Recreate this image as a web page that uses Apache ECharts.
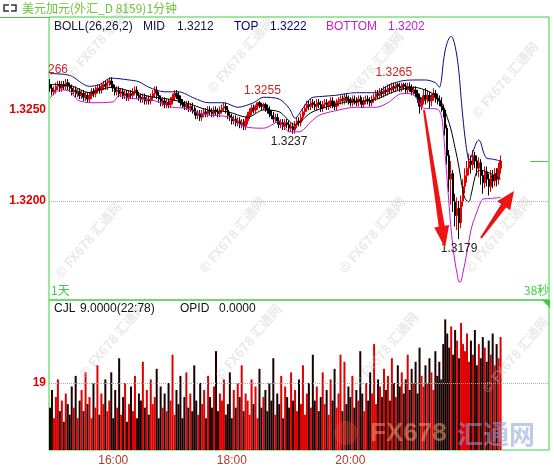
<!DOCTYPE html>
<html><head><meta charset="utf-8">
<script src="https://cdn.jsdelivr.net/npm/echarts@6/dist/echarts.min.js"></script>
<style>html,body{margin:0;padding:0;background:#fff;}#c{width:554px;height:470px;}</style>
</head><body><div id="c"></div>
<script>
// ---- data (prices in pips above 1.3200) ----
const basePrice = 1.32;
const startMinute = 14 * 60 + 56;   // first 2-minute slot 14:56
const slotMinutes = 2;
const slotCount = 253;
const tickLabels = ['16:00', '18:00', '20:00'];
const priceTicks = [1.3200, 1.3250];
const volumeTicks = [19];

const openPips = [64,62,60,61,63,64,62,64,63,65, 63,62,60,61,59,60,58,59,57,58, 56,58,60,59,61,62,61,63,64,63, 65,66,64,62,60,61,59,60,58,59, 57,59,58,60,61,58,57,56,57,55, 56,55,57,59,61,58,56,54,55,53, 54,53,55,57,59,58,56,54,53,52, 53,51,52,50,49,47,48,46,48,49, 48,50,49,48,50,49,48,50,51,52, 50,47,46,44,45,43,44,42,43,41, 44,47,49,51,50,52,54,53,52,53, 51,50,48,47,45,46,44,42,43,41, 43,42,40,41,39,42,44,43,46,49, 51,53,52,54,53,52,54,53,51,53, 54,52,53,55,53,52,54,55,56,55, 57,56,55,54,56,55,54,56,55,53, 55,56,55,54,56,57,59,58,60,59, 61,60,62,61,63,62,64,63,62,64, 63,61,63,62,60,61,59,57,52,55, 58,56,58,55,57,59,57,56,55,52, 50,40,25,12,15,0,-8,-4,-12,0, 8,14,18,22,20,25,22,18,21,14, 10,16,12,8,14,11,15,12,18];
const closePips = [62,60,61,63,64,62,64,63,65,63, 62,60,61,59,60,58,59,57,58,56, 58,60,59,61,62,61,63,64,63,65, 66,64,62,60,61,59,60,58,59,57, 59,58,60,61,58,57,56,57,55,56, 55,57,59,61,58,56,54,55,53,54, 53,55,57,59,58,56,54,53,52,53, 51,52,50,49,47,48,46,48,49,48, 50,49,48,50,49,48,50,51,52,50, 47,46,44,45,43,44,42,43,41,44, 47,49,51,50,52,54,53,52,53,51, 50,48,47,45,46,44,42,43,41,43, 42,40,41,39,42,44,43,46,49,51, 53,52,54,53,52,54,53,51,53,54, 52,53,55,53,52,54,55,56,55,57, 56,55,54,56,55,54,56,55,53,55, 56,55,54,56,57,59,58,60,59,61, 60,62,61,63,62,64,63,62,64,63, 61,63,62,60,61,59,57,52,55,58, 56,58,55,57,59,57,56,55,52,50, 40,25,12,15,0,-8,-4,-12,0,8, 14,18,22,20,25,22,18,21,14,10, 16,12,8,14,11,15,12,18,22];
const highPips = [67,64,63,65,66,66,66,66,67,67, 65,64,63,63,62,62,61,61,60,60, 60,62,62,63,64,64,65,66,66,67, 68,68,66,64,63,63,62,62,61,61, 61,61,62,63,63,60,59,59,59,58, 58,59,61,63,63,60,58,57,57,56, 56,57,59,61,61,60,58,56,55,55, 55,54,54,52,51,50,50,50,51,51, 52,52,51,52,52,51,52,53,54,54, 52,49,48,47,47,46,46,45,45,46, 49,51,53,53,53,54,55,54,54,54, 53,52,50,49,48,48,46,45,45,45, 45,44,43,43,44,46,46,48,51,53, 55,55,56,56,55,56,56,55,55,56, 56,55,57,57,55,56,57,58,58,59, 59,58,57,58,58,57,58,58,57,57, 58,58,57,58,59,61,61,62,62,63, 63,64,64,65,65,65,65,65,65,65, 65,65,65,64,63,63,61,59,57,61, 62,61,60,59,62,61,59,58,57,53, 51,42,28,22,17,4,2,0,3,12, 18,22,26,25,28,27,25,24,23,17, 19,19,15,17,17,18,18,21,25];
const lowPips = [60,58,58,59,61,60,60,61,61,61, 60,58,58,57,57,56,56,55,55,54, 54,56,57,57,59,59,59,61,61,61, 63,62,60,58,58,57,57,56,56,55, 55,56,56,58,56,55,54,54,53,53, 53,53,55,57,56,54,52,52,51,51, 51,51,53,55,56,54,52,51,50,50, 49,49,48,47,45,45,44,44,46,46, 46,47,46,46,47,46,46,48,49,48, 45,44,42,42,41,41,40,40,39,39, 42,45,47,48,48,50,51,50,50,49, 48,46,45,43,43,42,40,40,39,39, 40,38,38,37,37,40,41,41,44,47, 49,50,50,51,50,50,51,49,49,51, 50,50,51,51,50,50,52,53,53,53, 54,53,52,52,53,52,52,53,51,51, 53,53,52,52,54,55,56,56,57,57, 58,58,59,59,60,60,61,60,60,61, 59,59,60,58,58,57,54,48,50,53, 53,54,51,52,55,54,53,52,49,46, 36,20,5,-2,-6,-14,-16,-21,-15,-3, 4,10,14,15,17,18,14,13,9,4, 7,8,3,5,7,8,8,9,15];
const volumes = [12,17,9,15,20,11,14,8,16,13, 10,18,12,21,9,14,17,11,22,13, 15,9,19,12,24,10,16,13,20,11, 14,22,9,17,12,26,10,15,19,8, 13,18,11,21,9,16,14,25,12,17, 10,20,13,15,23,9,18,12,16,11, 19,14,27,10,17,13,21,9,15,22, 12,16,11,24,14,10,19,13,17,9, 21,15,12,18,28,11,16,14,20,10, 13,22,9,17,12,19,15,24,11,16, 14,10,20,13,18,9,23,12,15,17, 11,19,14,26,10,16,13,21,9,18, 15,12,22,14,17,11,20,13,24,10, 16,19,12,27,14,18,11,15,22,13, 17,10,20,14,23,12,16,27,11,25, 13,18,15,21,12,17,14,28,16,11, 19,14,22,16,30,13,20,18,15,23, 17,21,14,26,19,15,24,18,22,16, 20,27,17,23,19,25,16,29,21,18, 24,19,26,22,17,28,21,25,20,30, 37,33,29,35,27,34,31,26,36,30, 28,33,25,31,27,34,24,30,26,32, 29,25,31,27,33,24,30,26,32];
// Bollinger bands: [slot, pips]
const bollTop = [[0,70],[10,69],[20,63],[25,64],[31,67.5],[40,66.5],[45,65.5],[50,62.5],[58,60],[65,60],[73,56.5],[80,54],[88,54],[95,51.5],[103,54],[108,57],[116,56],[121,51],[124,45.5],[128,51],[132,56.5],[138,57.5],[144,58],[155,59.5],[165,59.5],[171,63.5],[178,66],[184,66.5],[190,66.5],[195,65],[197,62.5],[198,66],[199,76],[200,83],[201,87],[202,89.5],[203,90.5],[204,89],[205,85],[206,79],[207,70],[208,57],[209,45],[210,35],[211,27],[212,22.5],[213,24],[214,27],[215,30],[216,32.5],[217,33.5],[218,32],[219,28],[220,25],[221,23.5],[224,23],[228,22]];
const bollMid = [[0,64],[10,63.5],[20,59.5],[31,62.5],[40,60.5],[50,57.5],[60,56],[70,53.5],[80,50],[90,49],[100,46],[108,50],[116,49],[124,42],[132,48.5],[141,52],[151,54.5],[164,55.5],[174,60],[184,62.5],[192,60],[197,56],[199,52],[201,46],[203,39],[205,29],[206,24],[207,18],[208,11.5],[209,5],[210,1.5],[211,0],[212,-0.5],[213,3],[214,8],[215,13],[216,16],[218,17],[221,16],[225,14],[228,12]];
const bollBottom = [[0,56.5],[5,61],[10,60.5],[14,55.5],[21,54],[32,54.5],[35,58],[39,56.5],[48,56],[55,54.5],[62,51.5],[68,51],[78,47.5],[91,46],[98,41],[108,40],[116,43.5],[121,38],[126,38],[132,43.5],[136,47],[144,49.5],[155,51.5],[165,51.5],[171,54],[178,59],[183,59],[186,55.5],[189,51],[196,50.5],[198,47],[199,39],[200,25],[201,11],[202,-3],[203,-16],[204,-26],[205,-34],[206,-40],[207,-44.5],[208,-44],[209,-39],[210,-34],[211,-28],[212,-22],[213,-16],[214,-12],[215,-9],[216,-6],[217,-3],[218,-0.5],[219,1],[224,1.5],[228,2]];
// annotated extremes: slot index, which value
const extremes = [
  {i:106, kind:'high', color:'#d42020', off:[3,-10]},
  {i:175, kind:'high', color:'#d42020', off:[-2,-10]},
  {i:123, kind:'low',  color:'#222222', off:[-4,8]},
  {i:207, kind:'low',  color:'#222222', off:[0,9]}
];

// ---- build ----
const toPrice = p => +(basePrice + p / 10000).toFixed(5);
const cats = [];
for (let k = 0; k < slotCount; k++) {
  const m = startMinute + k * slotMinutes;
  cats.push(String(Math.floor(m / 60) % 24).padStart(2, '0') + ':' + String(m % 60).padStart(2, '0'));
}
const RED = '#e00000', BLACK = '#000000', GREEN = '#3fcc3f';
const FONT = 'Liberation Sans';
const candleData = closePips.map((c, i) => [toPrice(openPips[i]), toPrice(c), toPrice(lowPips[i]), toPrice(highPips[i])]);
const volData = volumes.map((v, i) => ({value: v, itemStyle: {color: closePips[i] >= openPips[i] ? RED : '#1a0000'}}));
const band = arr => arr.map(d => [d[0], toPrice(d[1])]);
const lastPrice = toPrice(closePips[closePips.length - 1]);

function arrowPts(x0, y0, x1, y1, w0, w1, hl, hw) {
  const dx = x1 - x0, dy = y1 - y0, L = Math.hypot(dx, dy), ux = dx / L, uy = dy / L, px = -uy, py = ux;
  const bx = x1 - ux * hl, by = y1 - uy * hl;
  return [[x0 + px * w0, y0 + py * w0], [bx + px * w1, by + py * w1], [bx + px * hw, by + py * hw], [x1, y1],
          [bx - px * hw, by - py * hw], [bx - px * w1, by - py * w1], [x0 - px * w0, y0 - py * w0]];
}
const txt = (x, y, text, fill, size, extra) => Object.assign({type: 'text', x, y, z: 100, silent: true,
  style: Object.assign({text, fill, font: (size || 12) + 'px "' + FONT + '"', textVerticalAlign: 'middle'}, extra || {})});

const watermarks = [[100,40],[240,55],[370,70],[505,80],[88,240],[232,235],[372,235],[498,235],[112,340],[248,342],[385,350],[515,355]];
const graphics = [
  {type: 'line', shape: {x1: 0, y1: 17.5, x2: 49, y2: 17.5}, style: {stroke: GREEN, lineWidth: 1}, z: 100},
  {type: 'polyline', shape: {points: [[9,5],[4,5],[4,11],[9,11]]}, style: {stroke: '#333', lineWidth: 1.5, fill: null}, z: 100},
  {type: 'polyline', shape: {points: [[11,5],[16,5],[16,11],[11,11]]}, style: {stroke: '#333', lineWidth: 1.5, fill: null}, z: 100},
  txt(22, 8, '美元加元(外汇_D 8159)1分钟', '#6cc43a', 12, {font: '12px "Noto Sans CJK SC"'}),
  txt(54, 27, 'BOLL(26,26,2)', '#14143c'), txt(143, 27, 'MID', '#14143c'), txt(177, 27, '1.3212', '#14143c'),
  txt(234, 27, 'TOP', '#000080'), txt(270, 27, '1.3222', '#000080'),
  txt(326, 27, 'BOTTOM', '#c81ec8'), txt(388, 27, '1.3202', '#c81ec8'),
  txt(54, 309, 'CJL', '#111'), txt(80, 309, '9.0000(22:78)', '#111'), txt(180, 309, 'OPID', '#111'), txt(219, 309, '0.0000', '#111'),
  txt(51, 290, '1天', GREEN, 12, {font: '12px "Noto Sans CJK SC"'}),
  txt(524, 290, '38秒', GREEN, 12, {font: '12px "Noto Sans CJK SC"'}),
  txt(48, 70, '266', '#d42020'),
  {type: 'polygon', shape: {points: [[542,300],[550,300],[550,308]]}, style: {fill: GREEN}, z: 100},
  {type: 'polygon', shape: {points: arrowPts(424, 110, 445, 248, 1, 3, 22, 7.5)}, style: {fill: '#ee1414'}, z: 90},
  {type: 'polygon', shape: {points: arrowPts(481, 238, 514, 191, 1, 3, 18, 8)}, style: {fill: '#ee1414'}, z: 90},
  {type: 'circle', shape: {cx: 346, cy: 433, r: 12}, style: {fill: 'rgba(230,80,60,0.35)'}, z: 95},
  txt(370, 434, 'FX678', 'rgba(245,170,120,0.5)', 26, {font: 'bold 26px "Liberation Sans"'}),
  txt(457, 434, '汇通网', 'rgba(140,160,215,0.55)', 26, {font: 'bold 26px "Noto Sans CJK SC"'})
].concat(watermarks.map(w => ({type: 'text', x: w[0], y: w[1], rotation: Math.PI * 50 / 180, z: 80, silent: true,
  style: {text: '© FX678 汇通网', fill: 'rgba(200,200,200,0.4)', font: 'bold 13px "Noto Sans CJK SC"', textAlign: 'center', textVerticalAlign: 'middle'}})));

const gridLine = {type: 'dotted', color: '#aaaaaa', width: 1};
const option = {
  animation: false,
  backgroundColor: '#ffffff',
  grid: [
    {left: 49, right: 5, top: 17, height: 283, show: true, borderColor: GREEN, borderWidth: 1},
    {left: 49, right: 5, top: 300, height: 150, show: true, borderColor: GREEN, borderWidth: 1}
  ],
  xAxis: [
    {type: 'category', gridIndex: 0, data: cats, axisLine: {show: false}, axisTick: {show: false}, axisLabel: {show: false}, splitLine: {show: false}},
    {type: 'category', gridIndex: 1, data: cats, axisLine: {show: false}, axisTick: {show: false}, splitLine: {show: false},
     axisLabel: {interval: (idx, v) => tickLabels.includes(v), color: '#b3392f', fontSize: 12, fontFamily: FONT, margin: 5}}
  ],
  yAxis: [
    {type: 'value', gridIndex: 0, min: 1.31456, max: 1.33011, scale: true, splitLine: {show: false}, axisLine: {show: false}, axisTick: {show: false},
     axisLabel: {customValues: priceTicks, formatter: v => v.toFixed(4), color: RED, fontWeight: 'bold', fontSize: 12, fontFamily: FONT, margin: 3}},
    {type: 'value', gridIndex: 1, min: 0, max: 42.5, splitLine: {show: false}, axisLine: {show: false}, axisTick: {show: false},
     axisLabel: {customValues: volumeTicks, color: RED, fontWeight: 'bold', fontSize: 12, fontFamily: FONT, margin: 3}}
  ],
  series: [
    {type: 'candlestick', name: 'price', xAxisIndex: 0, yAxisIndex: 0, data: candleData, barWidth: 1.8, z: 3,
     itemStyle: {color: RED, color0: BLACK, borderColor: RED, borderColor0: BLACK, borderWidth: 1},
     markLine: {silent: true, symbol: 'none', label: {show: false},
       data: priceTicks.map(p => ({yAxis: p, lineStyle: gridLine})).concat([[
         {coord: [slotCount - 10, lastPrice], lineStyle: {type: 'solid', color: GREEN, width: 1}},
         {coord: [slotCount - 1, lastPrice]}]])},
     markPoint: {silent: true, symbol: 'circle', symbolSize: 1, itemStyle: {color: 'rgba(0,0,0,0)'},
       data: extremes.map(e => {
         const p = e.kind === 'high' ? highPips[e.i] : lowPips[e.i];
         return {coord: [e.i, toPrice(p)], value: toPrice(p).toFixed(4),
           label: {show: true, position: 'inside', offset: e.off, color: e.color, fontSize: 12, fontFamily: FONT, formatter: '{c}'}};
       })}
    },
    {type: 'line', name: 'MID', xAxisIndex: 0, yAxisIndex: 0, data: band(bollMid), showSymbol: false, smooth: 0.3, z: 4,
     lineStyle: {color: '#000000', width: 1}},
    {type: 'line', name: 'TOP', xAxisIndex: 0, yAxisIndex: 0, data: band(bollTop), showSymbol: false, smooth: 0.3, z: 4,
     lineStyle: {color: '#0a0a80', width: 1}},
    {type: 'line', name: 'BOTTOM', xAxisIndex: 0, yAxisIndex: 0, data: band(bollBottom), showSymbol: false, smooth: 0.3, z: 4,
     lineStyle: {color: '#cc11cc', width: 1}},
    {type: 'bar', name: 'CJL', xAxisIndex: 1, yAxisIndex: 1, data: volData, barWidth: 2,
     markLine: {silent: true, symbol: 'none', label: {show: false}, data: volumeTicks.map(v => ({yAxis: v, lineStyle: gridLine}))}}
  ],
  graphic: graphics
};
const chart = echarts.init(document.getElementById('c'));
chart.setOption(option);
</script>
</body></html>
